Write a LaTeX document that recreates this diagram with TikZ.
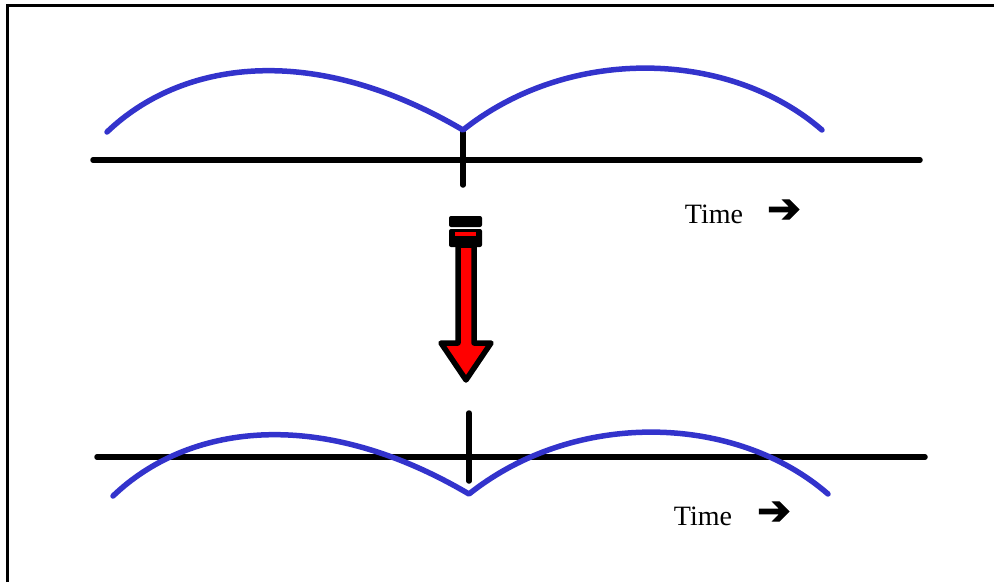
\documentclass[tikz,border=0pt]{standalone}
\usepackage{fontspec}
\setmainfont{Liberation Serif}
\newfontfamily\symfont[FakeBold=3]{DejaVu Sans}
\definecolor{waveblue}{RGB}{51,51,204}
\begin{document}
\begin{tikzpicture}[x=1pt,y=-1pt,
        axis/.style={line width=5.5pt,line cap=round},
        wave/.style={waveblue,line width=5.5pt,line cap=round,line join=round},
        every node/.style={font=\fontsize{28}{32}\selectfont}]
        \useasboundingbox (0,0) rectangle (994,582);
        % frame
        \draw[line width=3pt] (7,582) -- (7,5) -- (996,5);
        % top time line
        \coordinate (a1) at (93,160);
        \coordinate (b1) at (920,160);
        \coordinate (t1) at (463,132);
        \coordinate (u1) at (463,185);
        \draw[axis] (a1) -- (b1);
        \draw[axis] (t1) -- (u1);
        \draw[wave] (107,132) .. controls (180,62) and (310,40) .. (463,130)
                              .. controls (570,45) and (730,50) .. (822,130);
        \node (time1) at (714,214) {Time};
        \node[font=\symfont\fontsize{40}{42}\selectfont] (arr1) at (784,211) {➔};
        % bottom time line
        \coordinate (a2) at (97,457);
        \coordinate (b2) at (925,457);
        \coordinate (t2) at (469,413);
        \coordinate (u2) at (469,481);
        \draw[axis] (a2) -- (b2);
        \draw[axis] (t2) -- (u2);
        \begin{scope}[shift={(6,364)}]
        \draw[wave] (107,132) .. controls (180,62) and (310,40) .. (463,130)
                              .. controls (570,45) and (730,50) .. (822,130);
        \end{scope}
        \node (time2) at (703,516) {Time};
        \node[font=\symfont\fontsize{40}{42}\selectfont] (arr2) at (774,513) {➔};
        % big red arrow
        \fill[rounded corners=2pt] (449,216) rectangle (482,227);
        \fill[rounded corners=2pt] (449,229) rectangle (482,247);
        \fill[red] (455,232) rectangle (476,236);
        \filldraw[fill=red,line width=5.5pt,line join=round]
            (458,245) -- (458,343) -- (441,343) -- (466,380) -- (491,343)
            -- (474,343) -- (474,245) -- cycle;
\end{tikzpicture}
\end{document}
